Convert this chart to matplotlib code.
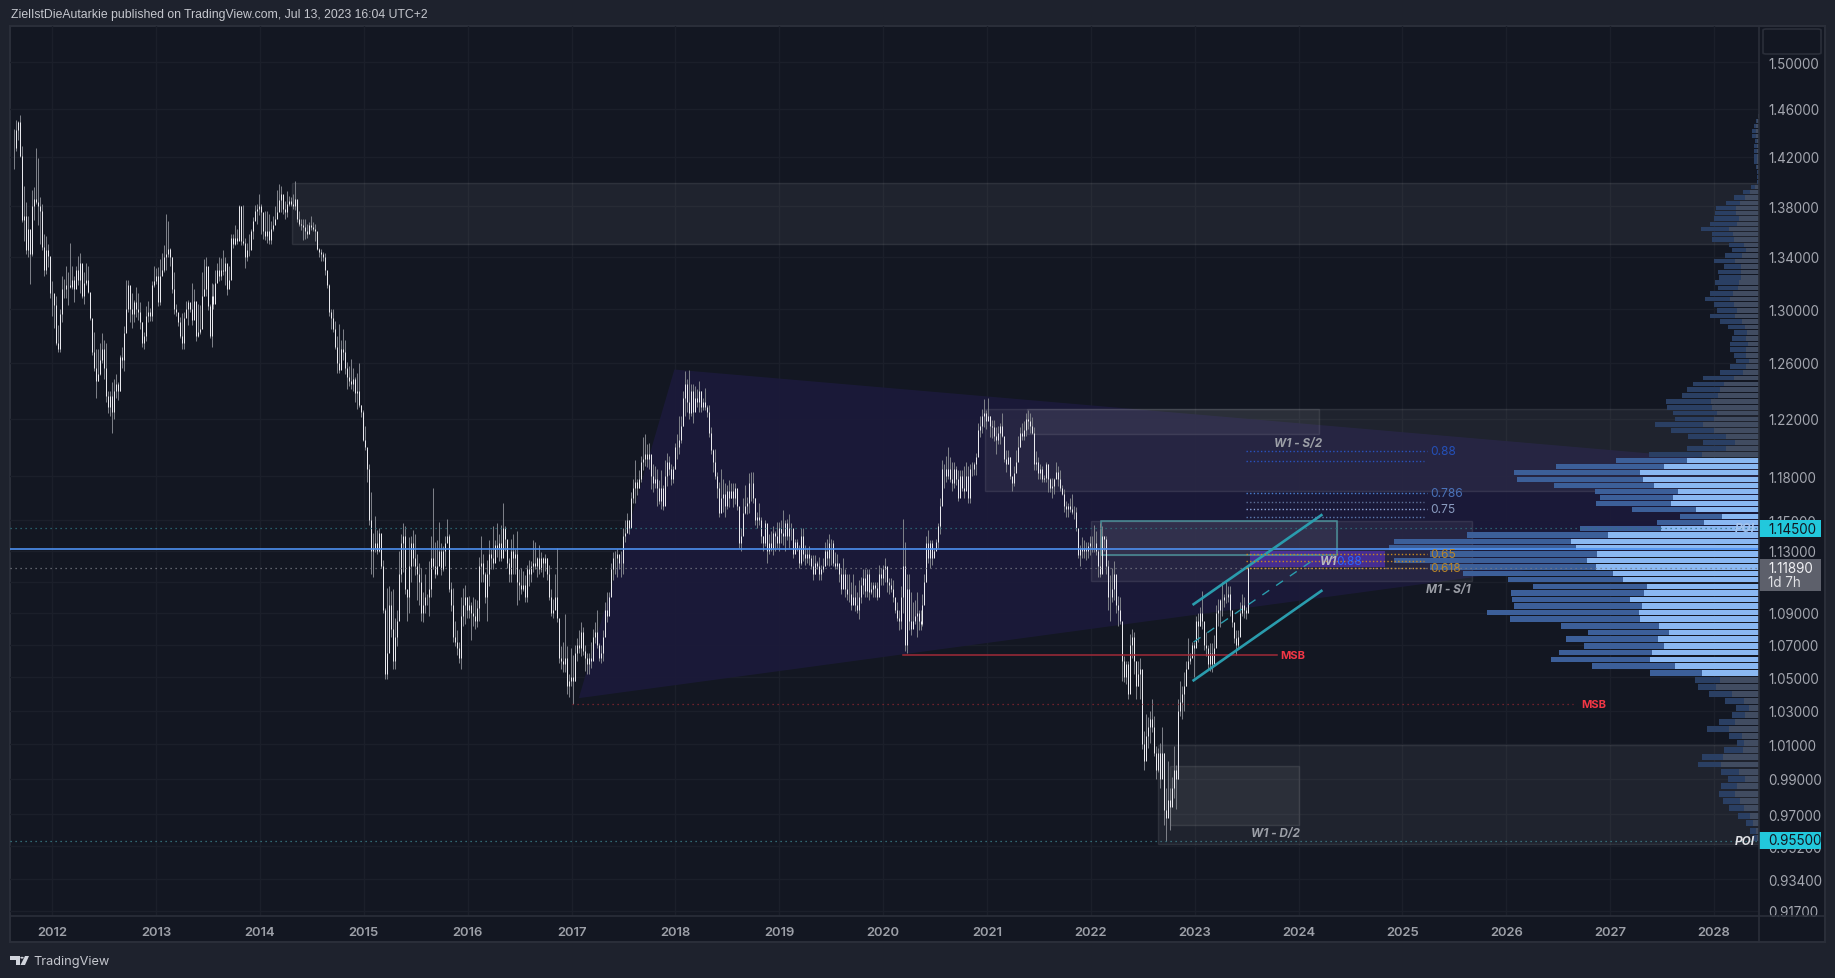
import numpy as np
from matplotlib import pyplot as plt
from matplotlib import patches

# weekly bars: (high, low, close) in 1/1000 of a price unit
bars_2011 = [(1443,1410,1427),(1451,1425,1442),(1450,1434,1449),(1455,1420,1421),(1429,1367,1369),(1396,1352,1372),
    (1383,1342,1345),(1372,1340,1362),(1357,1319,1342),(1393,1341,1380),(1395,1369,1386),(1427,1382,1383),
    (1419,1365,1380),(1387,1350,1376),(1382,1345,1348),(1358,1325,1330),(1356,1327,1345),(1350,1332,1341),
    (1340,1308,1312),(1321,1295,1312),(1310,1286,1303),(1310,1273,1275)]
bars_2012 = [(1288,1268,1270),(1300,1268,1296),(1325,1290,1315),(1323,1308,1315),(1333,1308,1318),(1328,1303,1318),
    (1351,1316,1317),(1333,1315,1322),(1325,1305,1315),(1333,1318,1330),(1341,1318,1322),(1343,1312,1335),
    (1325,1308,1310),(1328,1304,1320),(1335,1318,1322),(1333,1312,1313),(1310,1292,1293),(1292,1266,1268),
    (1283,1254,1256),(1270,1235,1247),(1270,1247,1252),(1275,1251,1262),(1282,1260,1270),(1277,1248,1256),
    (1275,1232,1236),(1240,1224,1228),(1240,1222,1236),(1246,1210,1225),(1248,1220,1240),(1252,1235,1245),
    (1246,1233,1240),(1266,1240,1264),(1272,1256,1262),(1287,1254,1282),(1322,1285,1300),(1322,1298,1318),
    (1312,1290,1300),(1312,1286,1296),(1307,1290,1305),(1317,1294,1300),(1312,1292,1298),(1305,1285,1290),
    (1290,1272,1275),(1283,1270,1280),(1302,1276,1295),(1306,1290,1298),(1301,1291,1295),(1321,1291,1318),
    (1333,1317,1321),(1331,1319,1325),(1332,1302,1305),(1338,1303,1325),(1343,1328,1330)]
bars_2013 = [(1349,1328,1340),(1374,1330,1342),(1368,1340,1346),(1347,1333,1340),(1340,1312,1315),(1328,1296,1300),
    (1304,1295,1298),(1297,1287,1290),(1294,1278,1280),(1297,1270,1275),(1298,1270,1293),(1306,1295,1300),
    (1307,1288,1305),(1304,1298,1300),(1320,1288,1292),(1315,1298,1306),(1299,1276,1280),(1304,1279,1283),
    (1303,1281,1285),(1328,1295,1310),(1338,1310,1315),(1340,1310,1333),(1315,1299,1302),(1304,1278,1280),
    (1320,1272,1310),(1319,1300,1304),(1330,1314,1320),(1335,1324,1330),(1340,1321,1325),(1339,1322,1330),
    (1345,1326,1329),(1340,1318,1335),(1323,1311,1315),(1333,1316,1322),(1358,1334,1355),(1358,1347,1350),
    (1365,1349,1355),(1362,1350,1352),(1381,1365,1380),(1380,1349,1352),(1381,1349,1351),(1355,1331,1340),
    (1351,1337,1345),(1358,1341,1345),(1362,1352,1360),(1371,1354,1368),(1381,1370,1376),(1382,1366,1378),
    (1390,1373,1380),(1382,1358,1375),(1370,1354,1360)]
bars_2014 = [(1376,1353,1356),(1376,1351,1360),(1374,1350,1353),(1368,1350,1362),(1372,1360,1365),(1380,1366,1370),
    (1393,1372,1375),(1398,1377,1385),(1396,1375,1390),(1388,1374,1378),(1384,1370,1375),(1392,1371,1382),
    (1388,1380,1384),(1387,1380,1382),(1390,1378,1380),(1400,1377,1386),(1378,1367,1370),(1376,1364,1366),
    (1370,1361,1365),(1370,1353,1363),(1370,1354,1360),(1366,1355,1358),(1367,1360,1365),(1372,1361,1363),
    (1367,1360,1362),(1366,1352,1360),(1356,1345,1346),(1347,1340,1344),(1346,1337,1342),(1344,1337,1340),
    (1343,1326,1330),(1325,1316,1318),(1319,1295,1298),(1300,1285,1293),(1300,1283,1285),(1291,1270,1272),
    (1280,1253,1260),(1289,1253,1255),(1277,1262,1270),(1285,1262,1268),(1277,1252,1256),(1261,1241,1250),
    (1258,1243,1247),(1263,1241,1245),(1256,1240,1248),(1250,1232,1238),(1253,1227,1240),(1260,1228,1230),
    (1230,1221,1225),(1226,1204,1205),(1215,1198,1200)]
bars_2015 = [(1198,1176,1185),(1188,1147,1150),(1169,1115,1130),(1142,1113,1132),(1153,1129,1135),(1144,1128,1130),
    (1145,1129,1142),(1140,1119,1120),(1124,1090,1092),(1093,1049,1052),(1106,1049,1065),(1107,1079,1095),
    (1104,1075,1080),(1105,1055,1060),(1087,1055,1075),(1092,1069,1085),(1130,1086,1115),(1141,1110,1135),
    (1148,1116,1140),(1146,1102,1105),(1102,1085,1100),(1139,1090,1120),(1140,1110,1135),(1144,1120,1125),
    (1141,1114,1120),(1128,1098,1115),(1122,1095,1110),(1119,1085,1090),(1103,1084,1095),(1115,1090,1100),
    (1102,1095,1100),(1123,1088,1105),(1140,1100,1125),(1172,1118,1120),(1136,1112,1115),(1137,1114,1120),
    (1149,1125,1130),(1135,1114,1118),(1133,1117,1130),(1140,1120,1135),(1151,1136,1140),(1141,1103,1105),
    (1110,1091,1095),(1106,1072,1075),(1085,1069,1072),(1079,1064,1068),(1072,1059,1062),(1100,1055,1088),
    (1106,1082,1095),(1108,1083,1100),(1100,1087,1092),(1101,1087,1095)]
bars_2016 = [(1097,1073,1090),(1100,1082,1088),(1099,1080,1085),(1098,1081,1093),(1126,1085,1120),(1140,1110,1122),
    (1128,1110,1115),(1116,1096,1100),(1124,1085,1115),(1137,1107,1128),(1131,1118,1125),(1146,1118,1122),
    (1137,1125,1134),(1148,1126,1132),(1141,1123,1135),(1147,1123,1125),(1162,1132,1145),(1146,1130,1138),
    (1136,1119,1122),(1125,1110,1115),(1138,1110,1130),(1141,1115,1125),(1131,1115,1128),(1143,1095,1110),
    (1118,1098,1108),(1119,1102,1105),(1117,1104,1108),(1114,1097,1100),(1121,1097,1118),(1124,1107,1115),
    (1123,1110,1120),(1137,1116,1122),(1136,1118,1120),(1126,1113,1125),(1134,1115,1118),(1129,1116,1125),
    (1126,1113,1122),(1128,1117,1125),(1125,1111,1115),(1121,1098,1100),(1105,1088,1090),(1099,1087,1092),
    (1115,1095,1100),(1132,1084,1087),(1086,1059,1062),(1069,1055,1060),(1072,1053,1058),(1089,1053,1062),
    (1069,1040,1045),(1052,1038,1048),(1068,1045,1050),(1064,1034,1048)]
bars_2017 = [(1070,1048,1065),(1074,1060,1070),(1079,1065,1068),(1084,1063,1078),(1081,1064,1066),(1070,1054,1062),
    (1065,1052,1058),(1065,1052,1062),(1072,1056,1060),(1080,1062,1075),(1084,1071,1078),(1092,1068,1070),
    (1071,1060,1062),(1070,1059,1065),(1079,1060,1075),(1097,1084,1092),(1103,1084,1088),(1103,1092,1100),
    (1122,1102,1118),(1129,1111,1125),(1130,1115,1125),(1131,1113,1128),(1127,1118,1122),(1130,1113,1122),
    (1145,1115,1140),(1150,1136,1142),(1155,1143,1150),(1150,1141,1145),(1169,1145,1165),(1178,1162,1172),(1191,1162,1176),
    (1178,1167,1172),(1184,1172,1178),(1194,1176,1190),(1207,1184,1192),(1209,1187,1195),(1202,1186,1192),
    (1203,1185,1195),(1190,1171,1180),(1188,1169,1175),(1187,1172,1178),(1185,1160,1172),(1177,1161,1163),
    (1184,1158,1172),(1174,1157,1160),(1191,1172,1180),(1196,1173,1190),(1194,1181,1185),(1188,1174,1178),
    (1187,1175,1185),(1203,1185,1200),(1209,1192,1200)]
bars_2018 = [(1222,1195,1205),(1222,1203,1215),(1240,1215,1235),(1254,1222,1245),(1248,1225,1232),(1255,1220,1224),
    (1245,1222,1240),(1245,1217,1225),(1243,1226,1235),(1241,1228,1232),(1247,1225,1240),(1240,1225,1228),
    (1235,1226,1232),(1242,1226,1228),(1230,1221,1225),(1230,1207,1210),(1214,1195,1198),(1199,1183,1190),
    (1199,1178,1180),(1183,1165,1172),(1176,1152,1155),(1185,1160,1165),(1178,1156,1168),(1175,1152,1160),
    (1174,1158,1170),(1177,1159,1165),(1175,1165,1170),(1175,1159,1165),(1175,1161,1172),(1170,1157,1160),
    (1159,1132,1135),(1145,1130,1140),(1165,1142,1155),(1174,1154,1160),(1166,1154,1162),(1182,1155,1175),
    (1183,1163,1175),(1183,1162,1165),(1165,1147,1150),(1156,1145,1152),(1162,1147,1150),(1152,1135,1140),
    (1140,1130,1135),(1150,1133,1148),(1146,1122,1130),(1141,1128,1135),(1143,1130,1132),(1146,1127,1142),
    (1143,1130,1140),(1149,1132,1135),(1149,1130,1145),(1150,1135,1142)]
bars_2019 = [(1157,1134,1140),(1150,1130,1148),(1151,1137,1140),(1154,1132,1145),(1148,1137,1145),(1135,1125,1128),
    (1138,1130,1136),(1138,1130,1132),(1134,1119,1122),(1145,1121,1140),(1145,1123,1128),(1134,1121,1125),
    (1132,1122,1128),(1133,1121,1125),(1127,1118,1120),(1127,1111,1115),(1127,1115,1122),(1123,1118,1120),
    (1126,1111,1115),(1121,1111,1118),(1125,1116,1120),(1136,1120,1130),(1138,1121,1125),(1141,1120,1135),
    (1138,1121,1135),(1137,1120,1122),(1129,1118,1120),(1128,1118,1122),(1121,1110,1115),(1119,1102,1105),
    (1125,1110,1115),(1118,1100,1105),(1115,1098,1102),(1115,1097,1102),(1110,1092,1095),(1115,1098,1100),
    (1108,1091,1095),(1103,1090,1092),(1111,1086,1100),(1113,1096,1108),(1118,1102,1112),(1118,1100,1104),
    (1118,1100,1115),(1118,1098,1103),(1110,1102,1105),(1110,1100,1108),(1110,1100,1106),(1110,1098,1100),
    (1121,1108,1115),(1119,1108,1112),(1121,1108,1118),(1125,1110,1120)]
bars_2020 = [(1114,1103,1110),(1112,1102,1108),(1112,1103,1105),(1111,1097,1100),(1098,1090,1092),(1097,1085,1087),
    (1092,1079,1085),(1107,1080,1100),(1151,1090,1120),(1136,1066,1070),(1115,1065,1105),(1115,1079,1085),
    (1103,1076,1080),(1097,1083,1085),(1098,1083,1088),(1103,1075,1090),(1092,1079,1085),(1092,1079,1083),
    (1102,1082,1095),(1115,1096,1110),(1140,1110,1135),(1144,1122,1125),(1137,1119,1135),(1137,1121,1125),
    (1132,1128,1130),(1138,1132,1136),(1148,1132,1146),(1165,1141,1160),(1191,1165,1185),(1188,1172,1185),
    (1194,1176,1180),(1200,1178,1185),(1193,1176,1178),(1190,1170,1175),(1190,1172,1185),(1187,1174,1178),
    (1184,1163,1165),(1184,1167,1180),(1184,1170,1172),(1187,1165,1170),(1190,1172,1180),(1187,1162,1165),
    (1188,1162,1185),(1190,1180,1185),(1190,1181,1188),(1196,1181,1193),(1217,1200,1212),(1222,1207,1215),
    (1227,1210,1222),(1234,1214,1224),(1226,1213,1218)]
bars_2021 = [(1235,1220,1222),(1222,1207,1215),(1219,1206,1214),(1219,1204,1208),(1214,1195,1205),(1215,1202,1210),
    (1217,1202,1215),(1224,1207,1208),(1206,1190,1192),(1198,1183,1188),(1198,1188,1193),(1193,1178,1180),
    (1178,1170,1175),(1187,1173,1182),(1198,1186,1190),(1208,1193,1200),(1214,1200,1210),(1217,1205,1208),
    (1218,1205,1212),(1224,1208,1220),(1226,1213,1218),(1224,1210,1215),(1221,1209,1210),(1214,1184,1188),
    (1197,1184,1190),(1193,1178,1182),(1188,1178,1185),(1187,1176,1178),(1181,1176,1179),(1190,1176,1188),
    (1188,1169,1178),(1179,1169,1172),(1179,1165,1173),(1179,1168,1178),(1190,1179,1183),(1187,1173,1178),
    (1184,1170,1172),(1174,1167,1168),(1171,1156,1160),(1163,1152,1158),(1162,1152,1160),(1165,1156,1158),
    (1168,1154,1156),(1160,1151,1156),(1159,1143,1145),(1145,1125,1127),(1134,1120,1132),(1139,1125,1130),
    (1137,1125,1132),(1136,1124,1130),(1136,1125,1133),(1140,1127,1135)]
bars_2022 = [(1140,1129,1135),(1147,1129,1135),(1143,1127,1130),(1132,1113,1120),(1148,1113,1115),(1146,1131,1140),
    (1140,1130,1138),(1140,1115,1120),(1124,1092,1100),(1114,1085,1100),(1119,1097,1105),(1123,1098,1115),
    (1113,1090,1095),(1101,1082,1092),(1100,1083,1085),(1083,1048,1060),(1063,1047,1050),(1060,1046,1058),
    (1060,1037,1040),(1077,1056,1070),(1080,1062,1075),(1078,1052,1060),(1060,1037,1045),(1060,1045,1052),
    (1062,1037,1055),(1047,1007,1010),(1018,995,1000),(1028,1010,1015),(1026,1008,1020),(1030,1011,1025),
    (1037,1017,1020),(1027,1003,1005),(1009,990,995),(1008,994,1005),(1011,985,990),(1020,999,1005),
    (1005,964,972),(985,955,968),(1000,974,978),(985,961,974),(991,980,985),(1009,979,995),
    (998,973,990),(1037,990,1030),(1048,1027,1035),(1045,1025,1040),(1053,1030,1045),(1060,1045,1055),
    (1074,1056,1060),(1065,1058,1062),(1072,1064,1070),(1072,1050,1068)]
bars_2023 = [(1088,1071,1085),(1090,1072,1082),(1094,1082,1090),(1104,1080,1085),(1082,1067,1070),(1078,1063,1068),
    (1070,1055,1058),(1071,1054,1065),(1071,1053,1058),(1076,1064,1068),(1095,1071,1090),(1099,1082,1092),
    (1099,1081,1098),(1110,1088,1098),(1102,1094,1100),(1110,1096,1100),(1107,1097,1102),(1107,1088,1092),
    (1091,1081,1084),(1078,1071,1074),(1079,1064,1070),(1079,1068,1075),(1097,1076,1090),(1102,1088,1095),
    (1100,1087,1092),(1094,1086,1090),(1120,1096,1119)]

# volume profile rows from top to bottom, total and the lighter share
vol_total = [1,3,5,7,7,4,5,5,5,5,3,2,2,
    2,8,16,25,33,43,44,45,49,58,47,47,30,27,34,45,35,41,40,44,41,49,54,45,42,49,39,31,25,27,29,29,25,23,29,39,
    56,66,72,77,93,92,86,84,104,88,71,56,72,110,
    143,203,245,242,205,164,159,163,127,79,102,179,292,365,370,329,365,329,296,251,226,248,247,245,272,249,198,
    171,193,175,200,208,167,109,64,61,50,
    34,23,27,40,52,30,22,35,57,61,38,31,38,40,36,30,21,13,9,6]
vol_light = [1,2,3,3,3,2,2,2,2,2,2,1,1,
    1,4,9,14,19,23,23,20,22,30,26,25,15,13,17,24,18,18,18,20,21,26,29,25,22,24,17,14,12,13,11,13,13,10,13,16,
    25,35,39,41,48,47,42,45,56,45,33,24,33,57,
    72,95,119,116,105,81,86,88,63,37,55,98,151,188,183,162,172,163,146,136,112,115,129,117,120,119,100,
    90,101,95,107,109,84,57,39,43,27,
    15,10,14,24,30,17,15,16,36,38,20,14,22,24,19,15,9,6,3,2]
profile_top, profile_bottom = 1.4537, 0.9565
value_area = (63, 97)  # rows drawn in the bright colours

year_ticks = list(range(2012, 2029))
price_ticks = [1.5, 1.46, 1.42, 1.38, 1.34, 1.30, 1.26, 1.22, 1.18, 1.15, 1.13, 1.11, 1.09, 1.07, 1.05, 1.03, 1.01,
               0.99, 0.97, 0.952, 0.934, 0.917]
last_bar = 2023.514

# drawings, x in years and y in price: (x0, x1, p_low, p_high)
right_edge = 2028.434
zones = [(2014.31, right_edge, 1.350, 1.3986),
         (2020.98, right_edge, 1.170, 1.2265),
         (2021.39, 2024.20, 1.2091, 1.2265),
         (2022.00, 2025.67, 1.1106, 1.1494),
         (2022.10, 2024.37, 1.1273, 1.1499),
         (2022.65, right_edge, 0.9535, 1.0096),
         (2022.76, 2024.00, 0.9639, 0.9974)]
pennant_x = [2017.99, 2017.07, right_edge, right_edge]
pennant_p = [1.2552, 1.0374, 1.138, 1.1891]
purple_box = (2023.53, 2024.83, 1.1192, 1.1299)
channel_upper = ([2022.99, 2024.22], [1.0955, 1.1536])
channel_lower = ([2022.99, 2024.22], [1.0482, 1.1040])
channel_mid = ([2022.99, 2024.17], [1.0717, 1.1252])
fib_x = (2023.49, 2025.21)
fib_levels = [1.1970, 1.1902, 1.1682, 1.1621, 1.1575, 1.1524, 1.1281, 1.1230, 1.1186]
fib_colors = ['#2a52be', '#2a52be', '#4a7fd0', '#5c6f96', '#8fa6d8', '#5d7ab0', '#c98a20', '#c98a20', '#d49a30']
fib_names = ['0.88', None, '0.786', None, '0.75', None, '0.65', None, '0.618']
fib_text = ['#2450b8', None, '#4a72b8', None, '#8a9cc0', None, '#b8862a', None, '#b8862a']

W, H = 1835, 979
BG = '#1e222d'
PANEL = '#131722'
EDGE = '#2a2e39'

plt.rcParams['font.family'] = ['Inter', 'DejaVu Sans']
fig = plt.figure(figsize=(W/100, H/100), dpi=100, facecolor=BG)

def fx(x):
    return x/W

def fy(y):
    return 1 - y/H

# outer frame
fig.add_artist(patches.Rectangle((fx(10), fy(943)), 1815/W, 916/H, transform=fig.transFigure,
                                 fc=PANEL, ec=EDGE, lw=1.5, zorder=-5))
fig.add_artist(plt.Line2D([fx(10), fx(1825)], [fy(917), fy(917)], color=EDGE, lw=1.2, zorder=6))
fig.add_artist(plt.Line2D([fx(1759), fx(1759)], [fy(27), fy(943)], color=EDGE, lw=1.2, zorder=6))
fig.add_artist(patches.FancyBboxPatch((fx(1763), fy(55)), 58/W, 25/H, transform=fig.transFigure, fc=PANEL, ec=EDGE,
                                      lw=1.2, zorder=6, boxstyle='round,pad=0,rounding_size=0.002',
                                      mutation_aspect=H/W))

ax = fig.add_axes([fx(10), fy(917), 1749/W, 890/H])
ax.patch.set_visible(False)

ax.set_yscale('log')
ax.set_ylim(0.9143, 1.5319)
ax.set_xlim(2011.593, right_edge)

ax.set_xticks(year_ticks)
ax.set_xticklabels([str(y) for y in year_ticks], fontsize=9.4, color='#9da0a8', fontweight='semibold')
ax.set_yticks(price_ticks)
ax.set_yticklabels(['' if p == 1.11 else '%.5f' % p for p in price_ticks], fontsize=9.7, color='#a3a6af')
ax.minorticks_off()
ax.yaxis.tick_right()
ax.tick_params(axis='both', which='both', length=0)
ax.tick_params(axis='x', pad=7)
ax.tick_params(axis='y', pad=7)
ax.grid(True, color='#1b1f2a', lw=1)
ax.set_axisbelow(True)
for s in ax.spines.values():
    s.set_visible(False)

ax.fill(pennant_x, pennant_p, color='#1b1a3a', alpha=0.92, lw=0, zorder=1.6)
for x0, x1, p0, p1 in zones:
    ax.add_patch(patches.Rectangle((x0, p0), x1-x0, p1-p0, fc=(1, 1, 1, 0.055), ec=(1, 1, 1, 0.09), lw=1, zorder=1.8))
b = zones[4]
ax.add_patch(patches.Rectangle((b[0], b[2]), b[1]-b[0], b[3]-b[2], fc='none', ec='#4a8f98', lw=1.1, zorder=2.8))
ax.add_patch(patches.Rectangle((purple_box[0], purple_box[2]), purple_box[1]-purple_box[0],
                               purple_box[3]-purple_box[2], fc=(0.36, 0.2, 0.78, 0.6), lw=0, zorder=1.9))

# profile hangs off the right edge, one volume unit is one pixel wide
rows = np.linspace(profile_top, profile_bottom, len(vol_total))
row_h = (profile_top - profile_bottom)/(len(vol_total) - 1)*0.82
vol_unit = (right_edge - 2011.593)/1749
for i in range(len(rows)):
    bright = value_area[0] <= i < value_area[1]
    w_total = vol_total[i]*vol_unit
    w_light = vol_light[i]*vol_unit
    ax.barh(rows[i], w_total, left=right_edge-w_total, height=row_h, color='#3c5f99' if bright else '#2a3f63', lw=0, zorder=2.4)
    ax.barh(rows[i], w_light, left=right_edge-w_light, height=row_h, color='#8ab8f2' if bright else '#414c61', lw=0, zorder=2.5)

# bars
bars = np.array(bars_2011 + bars_2012 + bars_2013 + bars_2014 + bars_2015 + bars_2016 + bars_2017 + bars_2018
                + bars_2019 + bars_2020 + bars_2021 + bars_2022 + bars_2023)/1000
high, low, close = bars[:, 0], bars[:, 1], bars[:, 2]
opn = np.r_[close[0], close[:-1]]
x = last_bar - (len(bars) - 1 - np.arange(len(bars)))/52
wicks = ax.vlines(x, low, high, color='#7c7f87', lw=0.72, zorder=3)
bodies = ax.vlines(x, np.minimum(opn, close), np.maximum(opn, close), color='#e9e9ee', lw=0.72, zorder=3.1)
wicks.set_snap(True)
bodies.set_snap(True)

# horizontal levels
ax.axhline(1.1309, color='#4d90f0', lw=1.2, zorder=4)
ax.axhline(1.1450, color='#2f7580', lw=0.9, ls=(0, (1, 3)), zorder=3.5)
ax.axhline(1.1189, color='#787b84', lw=0.9, ls=(0, (1, 3)), zorder=3.5)
ax.axhline(0.9550, color='#3d838e', lw=0.9, ls=(0, (1, 3)), zorder=3.5)
ax.plot([2020.19, 2023.79], [1.0634, 1.0634], color='#a02a38', lw=1.1, zorder=3.5)
ax.plot([2017.0, 2026.64], [1.0338, 1.0338], color='#8c2630', lw=0.9, ls=(0, (1, 3)), zorder=3.5)

# channel
for cx, cy, st, w in [(channel_upper[0], channel_upper[1], '-', 1.9), (channel_lower[0], channel_lower[1], '-', 1.9),
                      (channel_mid[0], channel_mid[1], (0, (6, 6)), 1.0)]:
    ax.plot(cx, cy, color='#2a9cad', lw=w, ls=st, zorder=4)

for i in range(len(fib_levels)):
    x1 = fib_x[1] + (0.03 if fib_names[i] else 0)
    ax.plot([fib_x[0], x1], [fib_levels[i]]*2, color=fib_colors[i], lw=1, ls=(0, (1, 1.6)), zorder=4)
    if fib_names[i]:
        ax.text(2025.27, fib_levels[i], fib_names[i], color=fib_text[i], fontsize=8.6, va='center', zorder=5)

ax.text(2023.82, 1.0634, 'MSB', color='#f23645', fontsize=8, fontweight='bold', va='center', zorder=5)
ax.text(2026.72, 1.0338, 'MSB', color='#f23645', fontsize=8, fontweight='bold', va='center', zorder=5)
for tx, tp, s in [(2024.0, 1.2030, 'W1 - S/2'), (2025.44, 1.1055, 'M1 - S/1'), (2023.78, 0.9592, 'W1 - D/2')]:
    ax.text(tx, tp, s, color='#9b9ea6', fontsize=8.5, fontweight='bold', style='italic', ha='center', va='center', zorder=5)
ax.text(2024.29, 1.1232, 'W1', color='#b6b8c0', fontsize=8.5, fontweight='bold', style='italic', ha='center', va='center', zorder=5)
ax.text(2024.49, 1.1232, '0.88', color='#2962ff', fontsize=8.6, ha='center', va='center', zorder=5)
ax.text(2028.30, 0.955, 'POI', color='#e0e1e5', fontsize=8.5, fontweight='bold', style='italic', ha='center', va='center', zorder=5)
ax.text(2028.30, 1.145, 'POI', color='#a4c4ee', fontsize=8.5, fontweight='bold', style='italic', ha='center', va='center', zorder=5)

# price boxes on the scale
tr = ax.get_yaxis_transform()
for p0, p1, c in [(1.1390, 1.1500, '#22c8dc'), (0.9506, 0.9600, '#22c8dc'), (1.1040, 1.1245, '#5d606b')]:
    ax.add_patch(patches.Rectangle((1, p0), 62/1749, p1-p0, transform=tr, fc=c, lw=0, clip_on=False, zorder=7))
lab_x = 1 + 9/1749
ax.text(lab_x, 1.1445, '1.14500', transform=tr, color=PANEL, fontsize=9.7, va='center', zorder=8)
ax.text(lab_x, 0.9553, '0.95500', transform=tr, color=PANEL, fontsize=9.7, va='center', zorder=8)
ax.text(lab_x, 1.1186, '1.11890', transform=tr, color='#f0f0f3', fontsize=9.7, va='center', zorder=8)
ax.text(lab_x, 1.1098, '1d 7h', transform=tr, color='#e0e1e5', fontsize=9.7, va='center', zorder=8)

# header and footer
fig.text(fx(10.5), fy(15), 'ZielIstDieAutarkie published on TradingView.com, Jul 13, 2023 16:04 UTC+2',
         color='#c5c7ce', fontsize=8.8, family='Liberation Sans', va='center')
fig.text(fx(33.5), fy(962), 'TradingView', color='#c5c7ce', fontsize=9.2, va='center')
logo = '#d1d4dc'
fig.add_artist(patches.Polygon([(fx(10), fy(957)), (fx(20), fy(957)), (fx(20), fy(966)), (fx(16), fy(966)),
                                (fx(16), fy(960.5)), (fx(10), fy(960.5))], transform=fig.transFigure, fc=logo, lw=0))
fig.add_artist(patches.Circle((fx(22), fy(958.7)), 1.7/W, transform=fig.transFigure, fc=logo, lw=0))
fig.add_artist(patches.Polygon([(fx(25), fy(957)), (fx(29), fy(957)), (fx(25), fy(966)), (fx(20.5), fy(966))],
                               transform=fig.transFigure, fc=logo, lw=0))

fig.savefig('out.png', dpi=100, facecolor=BG)
